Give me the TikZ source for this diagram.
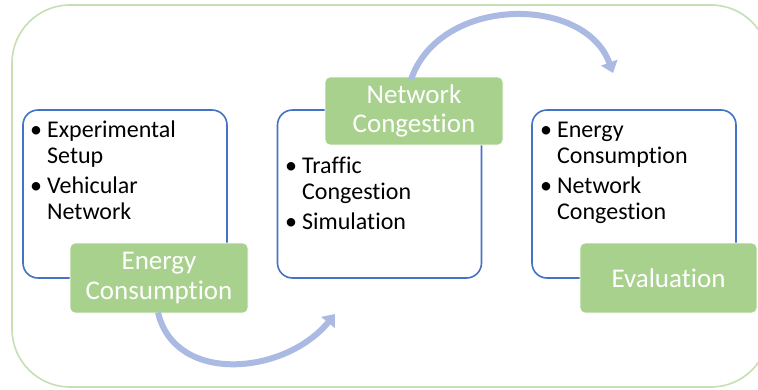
\documentclass[tikz,border=0pt]{standalone}
\usepackage{fontspec}
\setmainfont[Ligatures={NoCommon}]{Carlito}
\usetikzlibrary{arrows.meta}
\definecolor{outergreen}{HTML}{C5E0B4}
\definecolor{boxblue}{HTML}{4472C4}
\definecolor{labgreen}{HTML}{A9D18E}
\definecolor{arcblue}{RGB}{170,186,226}
\tikzset{
  bluebox/.style={draw=boxblue, line width=1.6pt, rounded corners=15pt, minimum width=204pt, minimum height=168pt, inner sep=0pt},
  greenbox/.style={fill=labgreen, draw=white, line width=0.8pt, rounded corners=5pt, minimum width=178pt, minimum height=70pt, inner sep=0pt, text=white, align=center, font=\fontsize{27}{29.5}\selectfont},
  listtext/.style={inner sep=0pt, anchor=base west, font=\fontsize{24}{26}\selectfont, text=black},
  arcarrow/.style={draw=arcblue, line width=6pt, -{Triangle[width=17pt,length=11pt]}}
}
\newcommand\lst[1]{\begin{tabular}[t]{@{}l@{\hspace{5pt}}l@{}}#1\end{tabular}}
\begin{document}
\begin{tikzpicture}[x=1pt,y=-1pt]
\useasboundingbox (0,0) rectangle (758,389);
\clip (0,0) rectangle (758,389);
\fill[white] (0,0) rectangle (758,389);
\draw[outergreen, line width=1.6pt, rounded corners=58pt] (12,5) rectangle (769,387);

\node[bluebox] (b1) at (125,194) {};
\node[bluebox] (b2) at (379.5,194) {};
\node[bluebox] (b3) at (634,194) {};

\node[listtext] (t1) at (30,137) {\lst{\textbullet & Experimental\\ & Setup\\[4pt] \textbullet & Vehicular\\ & Network}};
\node[listtext] (t2) at (285,173) {\lst{\textbullet & Traffic\\ & Congestion\\[4pt] \textbullet & Simulation}};
\node[listtext] (t3) at (540,137) {\lst{\textbullet & Energy\\ & Consumption\\[4pt] \textbullet & Network\\ & Congestion}};

\coordinate (e1) at (335,314);
\coordinate (e2) at (613,73);
\node[greenbox] (g1) at (159,278) {Energy\\Consumption};
\node[greenbox, minimum height=68pt] (g2) at (414,111) {Network\\Congestion};
\node[greenbox, minimum width=177pt] (g3) at (668.5,278) {Evaluation};

\draw[arcarrow] ([xshift=-1pt,yshift=1pt]g1.south) .. controls (175,385) and (285,375) .. (e1);
\draw[arcarrow] ([xshift=-3pt,yshift=-3pt]g2.north) .. controls (440,-5) and (585,-5) .. (e2);
\end{tikzpicture}
\end{document}
